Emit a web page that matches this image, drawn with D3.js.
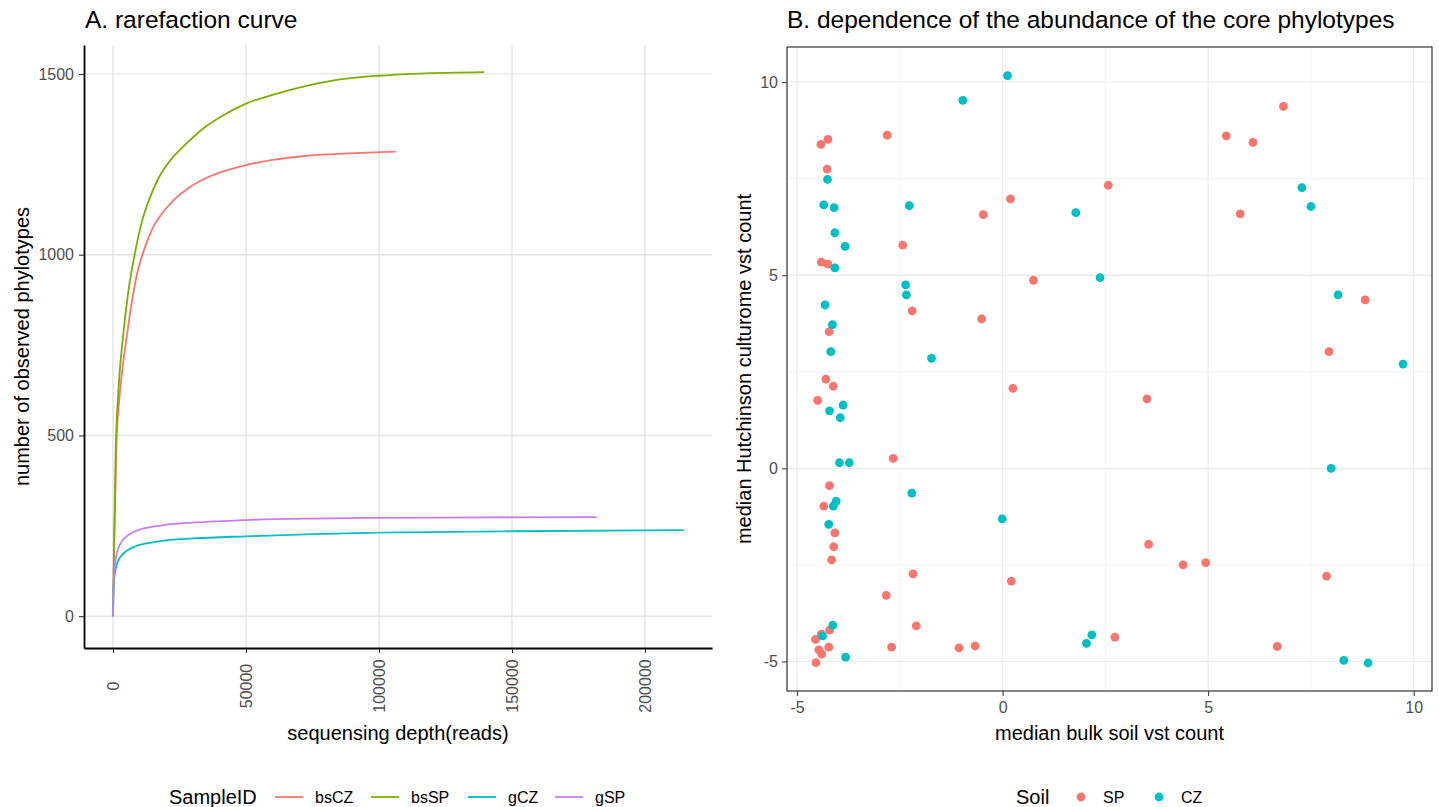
<!DOCTYPE html>
<html>
    <head>
        <meta charset="utf-8">
        <title></title>
        <script src="https://d3js.org/d3.v7.min.js"></script>
    </head>

    <body style="margin:0; background:#fff">
        <svg id="chart" width="1439" height="807"></svg>
    </body>

    <script>

        // rarefaction curves, [reads, observed phylotypes]
        var bsCZ = [[0,0],[400,170],[1300,480],[2500,610],[3800,700],[5100,770],[7000,865],[9000,945],[12000,1020],[15000,1075],[18000,1110],[22000,1145],[27000,1177],[33000,1205],[40000,1227],[50000,1248],[60000,1262],[72000,1273],[88000,1280],[106300,1285]]
        var bsSP = [[0,0],[300,160],[1000,450],[2000,620],[3800,775],[6000,910],[8000,995],[11000,1095],[14000,1160],[17000,1210],[22000,1265],[28000,1310],[35000,1355],[42000,1388],[50000,1418],[60000,1442],[70000,1462],[83000,1482],[100000,1495],[115000,1501],[139600,1505]]
        var gCZ = [[0,0],[100,50],[300,90],[700,118],[1500,145],[2800,164],[5000,180],[8000,192],[13000,202],[20000,210],[30000,215],[50000,221],[75000,227],[100000,231],[150000,235],[214600,238]]
        var gSP = [[0,0],[100,55],[300,100],[700,140],[1500,175],[2800,201],[5000,220],[8000,234],[13000,245],[20000,253],[30000,259],[50000,266],[75000,270],[100000,272],[140000,273.5],[181900,274]]
        var sampleIDs = ["bsCZ", "bsSP", "gCZ", "gSP"]
        var sampleColors = ["#F8766D", "#7CAE00", "#00BFC4", "#C77CFF"]

        var xTicksA = [0, 50000, 100000, 150000, 200000]
        var yTicksA = [0, 500, 1000, 1500]

        // core phylotypes, [median bulk soil, median culturome]
        var soilSP = [[-4.42,8.39],[-4.25,8.52],[-2.81,8.63],[-4.27,7.75],[6.83,9.37],[5.44,8.61],[6.09,8.44],[2.57,7.33],[0.19,6.98],[-0.47,6.57],[5.78,6.59],[-2.43,5.78],[-4.41,5.34],[-4.25,5.29],[0.75,4.87],[-2.20,4.08],[-0.51,3.87],[8.82,4.36],[-4.22,3.54],[7.94,3.02],[-4.30,2.31],[-4.12,2.13],[0.25,2.07],[-4.50,1.76],[3.51,1.80],[-2.66,0.26],[-4.21,-0.45],[-4.35,-0.98],[-4.08,-1.67],[3.55,-1.97],[-4.11,-2.03],[-4.16,-2.37],[4.39,-2.50],[4.94,-2.44],[-2.18,-2.73],[7.88,-2.79],[0.21,-2.92],[-2.83,-3.29],[-2.10,-4.08],[-4.21,-4.19],[-4.41,-4.29],[2.73,-4.37],[-4.55,-4.43],[-4.47,-4.70],[-4.40,-4.81],[-4.23,-4.63],[-2.70,-4.63],[-1.06,-4.65],[-0.67,-4.60],[6.68,-4.61],[-4.54,-5.03]]
        var soilCZ = [[0.12,10.17],[-0.97,9.53],[-4.26,7.48],[7.28,7.27],[-4.35,6.82],[-4.10,6.75],[-2.27,6.80],[1.78,6.62],[7.50,6.78],[-4.08,6.10],[-3.83,5.75],[-4.08,5.19],[2.37,4.94],[-2.36,4.75],[-2.34,4.49],[8.16,4.49],[-4.32,4.23],[-4.14,3.72],[-4.18,3.02],[-1.73,2.85],[9.74,2.70],[-4.21,1.49],[-3.88,1.64],[-3.95,1.31],[-3.97,0.145],[-3.73,0.145],[7.99,0.0],[-2.21,-0.64],[-4.05,-0.85],[-4.12,-0.98],[-4.23,-1.45],[-0.01,-1.31],[-4.13,-4.06],[-4.38,-4.34],[2.17,-4.31],[2.04,-4.53],[-3.82,-4.89],[8.30,-4.97],[8.89,-5.04]]
        var soilNames = ["SP", "CZ"]
        var soilColors = ["#F8766D", "#00BFC4"]

        var xTicksB = [-5, 0, 5, 10]
        var xMinorB = [-2.5, 2.5, 7.5]
        var yTicksB = [-5, 0, 5, 10]
        var yMinorB = [-2.5, 2.5, 7.5]

        var font = "'Liberation Sans', Arial, sans-serif"
        var svg = d3.select("#chart").style("font-family", font)

        // ---------- panel A ----------
        var a = { left: 84, right: 712, top: 45, bottom: 648 }

        var xA = d3.scaleLinear().domain([-10900, 225200]).range([a.left, a.right])
        var yA = d3.scaleLinear().domain([-88, 1580]).range([a.bottom, a.top])

        var gA = svg.append("g")

        // grid
        gA.selectAll(".gx").data(xTicksA).enter().append("line")
        .attr("x1", d => xA(d)).attr("x2", d => xA(d))
        .attr("y1", a.top).attr("y2", a.bottom)
        .attr("stroke", "#e3e3e3").attr("stroke-width", 1.4)
        gA.selectAll(".gy").data(yTicksA).enter().append("line")
        .attr("x1", a.left).attr("x2", a.right)
        .attr("y1", d => yA(d)).attr("y2", d => yA(d))
        .attr("stroke", "#e3e3e3").attr("stroke-width", 1.4)

        // curves
        var curves = [bsCZ, bsSP, gCZ, gSP]
        var line = d3.line().curve(d3.curveMonotoneX)
        .x(d => xA(d[0])).y(d => yA(d[1]))
        gA.selectAll(".curve").data(curves).enter().append("path")
        .attr("d", d => line(d))
        .attr("fill", "none")
        .attr("stroke", (d, i) => sampleColors[i])
        .attr("stroke-width", 1.8)

        // axes
        var axA_x = gA.append("g").attr("transform", "translate(0," + a.bottom + ")")
        .call(d3.axisBottom(xA).tickValues(xTicksA).tickSize(5).tickSizeOuter(0).tickFormat(d3.format("d")))
        axA_x.select(".domain").attr("stroke", "#000").attr("stroke-width", 1.8)
        axA_x.selectAll(".tick line").attr("stroke", "#222")
        axA_x.selectAll(".tick text")
        .attr("transform", "rotate(-90)")
        .attr("x", -38).attr("y", 0).attr("dy", "0.35em")
        .attr("text-anchor", "middle")
        .attr("fill", "#4d4d4d").style("font-size", "16px")

        var axA_y = gA.append("g").attr("transform", "translate(" + a.left + ",0)")
        .call(d3.axisLeft(yA).tickValues(yTicksA).tickSize(5).tickSizeOuter(0).tickFormat(d3.format("d")))
        axA_y.select(".domain").attr("stroke", "#000").attr("stroke-width", 1.8)
        axA_y.selectAll(".tick line").attr("stroke", "#222")
        axA_y.selectAll(".tick text").attr("x", -10)
        .attr("fill", "#4d4d4d").style("font-size", "16px")

        gA.append("text").attr("x", 85).attr("y", 28)
        .style("font-size", "24.5px").text("A. rarefaction curve")
        gA.append("text").attr("x", (a.left + a.right) / 2).attr("y", 740)
        .attr("text-anchor", "middle").style("font-size", "20px")
        .text("sequensing depth(reads)")
        gA.append("text")
        .attr("transform", "translate(29," + (a.top + a.bottom) / 2 + ") rotate(-90)")
        .attr("text-anchor", "middle").style("font-size", "20px")
        .text("number of observed phylotypes")

        // legend A
        var legA = gA.append("g").attr("transform", "translate(0,797)")
        legA.append("text").attr("x", 169).attr("dy", "0.35em")
        .style("font-size", "20px").text("SampleID")
        var legAx = [275, 371, 468, 555]
        sampleIDs.forEach(function(s, i) {
            legA.append("line").attr("x1", legAx[i]).attr("x2", legAx[i] + 28)
            .attr("stroke", sampleColors[i]).attr("stroke-width", 1.8)
            legA.append("text").attr("x", legAx[i] + 40).attr("dy", "0.35em")
            .style("font-size", "16px").text(s)
        })

        // ---------- panel B ----------
        var b = { left: 787, right: 1432, top: 47, bottom: 691 }

        var xB = d3.scaleLinear().domain([-5.245, 10.445]).range([b.left, b.right])
        var yB = d3.scaleLinear().domain([-5.765, 10.91]).range([b.bottom, b.top])

        var gB = svg.append("g")

        // minor then major grid
        gB.selectAll(".mx").data(xMinorB).enter().append("line")
        .attr("x1", d => xB(d)).attr("x2", d => xB(d))
        .attr("y1", b.top).attr("y2", b.bottom)
        .attr("stroke", "#f2f2f2").attr("stroke-width", 0.9)
        gB.selectAll(".my").data(yMinorB).enter().append("line")
        .attr("x1", b.left).attr("x2", b.right)
        .attr("y1", d => yB(d)).attr("y2", d => yB(d))
        .attr("stroke", "#f2f2f2").attr("stroke-width", 0.9)
        gB.selectAll(".gx").data(xTicksB).enter().append("line")
        .attr("x1", d => xB(d)).attr("x2", d => xB(d))
        .attr("y1", b.top).attr("y2", b.bottom)
        .attr("stroke", "#ebebeb").attr("stroke-width", 1.3)
        gB.selectAll(".gy").data(yTicksB).enter().append("line")
        .attr("x1", b.left).attr("x2", b.right)
        .attr("y1", d => yB(d)).attr("y2", d => yB(d))
        .attr("stroke", "#ebebeb").attr("stroke-width", 1.3)

        // points
        var groups = [soilSP, soilCZ]
        groups.forEach(function(pts, i) {
            gB.selectAll(".p" + i).data(pts).enter().append("circle")
            .attr("cx", d => xB(d[0])).attr("cy", d => yB(d[1]))
            .attr("r", 4.4).attr("fill", soilColors[i])
        })

        // border
        gB.append("rect").attr("x", b.left).attr("y", b.top)
        .attr("width", b.right - b.left).attr("height", b.bottom - b.top)
        .attr("fill", "none").attr("stroke", "#333").attr("stroke-width", 1.2)

        var axB_x = gB.append("g").attr("transform", "translate(0," + b.bottom + ")")
        .call(d3.axisBottom(xB).tickValues(xTicksB).tickSize(5).tickSizeOuter(0).tickFormat(d => String(d)))
        axB_x.select(".domain").remove()
        axB_x.selectAll(".tick line").attr("stroke", "#333")
        axB_x.selectAll(".tick text").attr("y", 11)
        .attr("fill", "#4d4d4d").style("font-size", "16px")

        var axB_y = gB.append("g").attr("transform", "translate(" + b.left + ",0)")
        .call(d3.axisLeft(yB).tickValues(yTicksB).tickSize(5).tickSizeOuter(0).tickFormat(d => String(d)))
        axB_y.select(".domain").remove()
        axB_y.selectAll(".tick line").attr("stroke", "#333")
        axB_y.selectAll(".tick text").attr("x", -9)
        .attr("fill", "#4d4d4d").style("font-size", "16px")

        gB.append("text").attr("x", 787).attr("y", 28)
        .style("font-size", "24.5px")
        .text("B. dependence of the abundance of the core phylotypes")
        gB.append("text").attr("x", (b.left + b.right) / 2).attr("y", 740)
        .attr("text-anchor", "middle").style("font-size", "20px")
        .text("median bulk soil vst count")
        gB.append("text")
        .attr("transform", "translate(751," + (b.top + b.bottom) / 2 + ") rotate(-90)")
        .attr("text-anchor", "middle").style("font-size", "20px")
        .text("median Hutchinson culturome vst count")

        // legend B
        var legB = gB.append("g").attr("transform", "translate(0,797)")
        legB.append("text").attr("x", 1016).attr("dy", "0.35em")
        .style("font-size", "20px").text("Soil")
        var legBx = [1081, 1159]
        soilNames.forEach(function(s, i) {
            legB.append("circle").attr("cx", legBx[i]).attr("r", 4.4).attr("fill", soilColors[i])
            legB.append("text").attr("x", legBx[i] + 22).attr("dy", "0.35em")
            .style("font-size", "16px").text(s)
        })
    </script>
</html>
